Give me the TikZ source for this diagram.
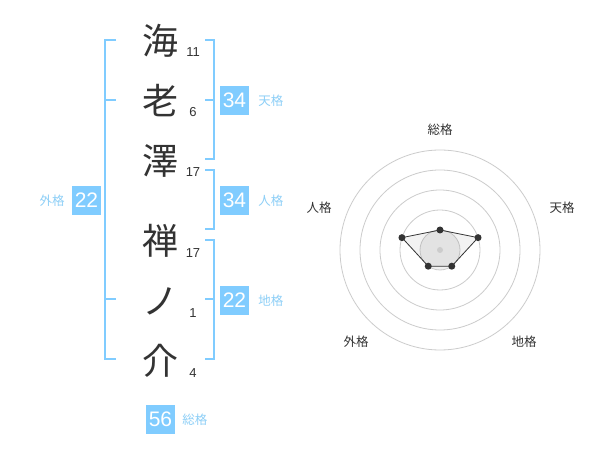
\documentclass[tikz,border=0pt]{standalone}
\usepackage{fontspec}
\setmainfont{Liberation Sans}
\newfontfamily\cjk{Noto Sans CJK JP}
\usetikzlibrary{positioning}
\definecolor{mbox}{HTML}{80CCFF}
\definecolor{mlab}{HTML}{8DCFF7}
\definecolor{mtext}{HTML}{333333}
\definecolor{mgrid}{HTML}{CCCCCC}
\tikzstyle{kanji}=[inner sep=0pt, text=mtext, font=\cjk\fontsize{36}{36}\selectfont]
\tikzstyle{stroke}=[inner sep=0pt, text=mtext, font=\fontsize{13}{13}\selectfont]
\tikzstyle{vbox}=[fill=mbox, text=white, minimum size=29pt, inner sep=0pt, font=\fontsize{21}{21}\selectfont]
\tikzstyle{vlab}=[inner sep=0pt, text=mlab, font=\cjk\fontsize{12.5}{12.5}\selectfont]
\tikzstyle{br}=[draw=mbox, line width=2pt]
\tikzstyle{grid}=[draw=mgrid, line width=0.8pt]
\tikzstyle{rlab}=[inner sep=0pt, text=mtext, font=\cjk\fontsize{12.5}{12.5}\selectfont]
\tikzstyle{pt}=[circle, fill=mtext, inner sep=0pt, minimum size=7pt]

\begin{document}
\begin{tikzpicture}[x=1pt, y=-1pt]
    \useasboundingbox[fill=white] (0,0) rectangle (600,470);

    % name column
    \node[kanji] at (160,41)  (k1) {海};
    \node[kanji] at (160,101) (k2) {老};
    \node[kanji] at (160,161) (k3) {澤};
    \node[kanji] at (160,241) (k4) {禅};
    \node[kanji] at (160,301) (k5) {ノ};
    \node[kanji] at (160,361) (k6) {介};
    \node[stroke] at (193,52)  (s1) {11};
    \node[stroke] at (193,112) (s2) {6};
    \node[stroke] at (193,172) (s3) {17};
    \node[stroke] at (193,253) (s4) {17};
    \node[stroke] at (193,313) (s5) {1};
    \node[stroke] at (193,373) (s6) {4};

    % brackets
    \draw[br] (116,40) -- (105,40) -- (105,359) -- (116,359);
    \draw[br] (105,100) -- (116,100);
    \draw[br] (105,299) -- (116,299);
    \draw[br] (205,40) -- (214,40) -- (214,159) -- (205,159);
    \draw[br] (205,100) -- (214,100);
    \draw[br] (205,170) -- (214,170) -- (214,229) -- (205,229);
    \draw[br] (205,240) -- (214,240) -- (214,359) -- (205,359);
    \draw[br] (205,299) -- (214,299);

    % values
    \node[vbox] at (234.5,100.5) (ten) {34};
    \node[vlab, right=9pt of ten] {天格};
    \node[vbox] at (234.5,200.5) (jin) {34};
    \node[vlab, right=9pt of jin] {人格};
    \node[vbox] at (234.5,300.5) (chi) {22};
    \node[vlab, right=9pt of chi] {地格};
    \node[vbox] at (86.5,200.5) (gai) {22};
    \node[vlab, left=7pt of gai] {外格};
    \node[vbox] at (160.5,419.5) (sou) {56};
    \node[vlab, right=7pt of sou] {総格};

    % radar
    \coordinate (c) at (440,250);
    \fill[black!6] (c) circle (20);
    \foreach \r in {20,40,60,80,100}
        \draw[grid] (c) circle (\r);
    \node[rlab] at (440,130) (r1) {総格};
    \node[rlab] at (562,208) (r2) {天格};
    \node[rlab] at (524,342) (r3) {地格};
    \node[rlab] at (356,342) (r4) {外格};
    \node[rlab] at (319,208) (r5) {人格};
    \path (c) ++(0,-20) coordinate (p1);
    \path (c) ++(38.04,-12.36) coordinate (p2);
    \path (c) ++(11.76,16.18) coordinate (p3);
    \path (c) ++(-11.76,16.18) coordinate (p4);
    \path (c) ++(-38.04,-12.36) coordinate (p5);
    \fill[black, opacity=0.05] (p1) -- (p2) -- (p3) -- (p4) -- (p5) -- cycle;
    \draw[mtext, line width=0.8pt] (p1) -- (p2) -- (p3) -- (p4) -- (p5) -- cycle;
    \node[circle, fill=black!20, inner sep=0pt, minimum size=6pt] at (c) {};
    \foreach \i in {1,...,5}
        \node[pt] at (p\i) {};
\end{tikzpicture}
\end{document}
